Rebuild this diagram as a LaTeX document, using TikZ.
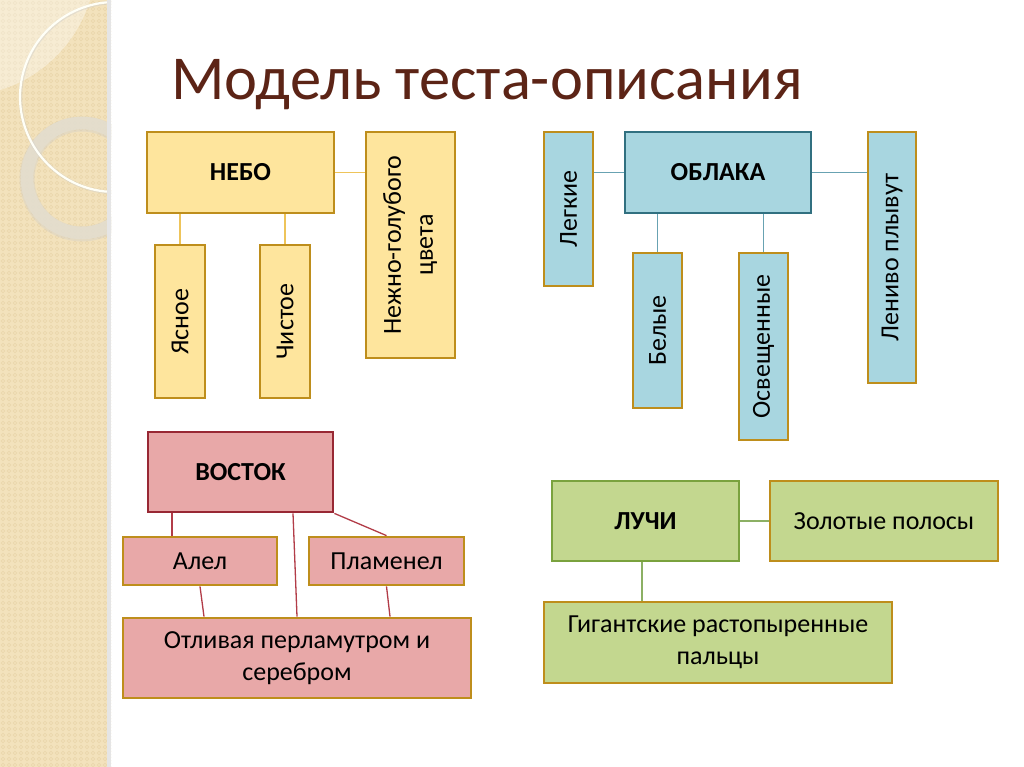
\documentclass[tikz,border=0pt]{standalone}
\usepackage{fontspec}
\setmainfont{Carlito}
\definecolor{strip}{RGB}{243,226,188}
\definecolor{stripdot}{RGB}{233,213,170}
\definecolor{ringc}{RGB}{228,222,206}
\definecolor{titlec}{RGB}{92,36,22}
\definecolor{goldfill}{RGB}{254,229,157}
\definecolor{goldline}{RGB}{190,142,28}
\definecolor{goldcon}{RGB}{238,196,90}
\definecolor{bluefill}{RGB}{168,214,224}
\definecolor{tealline}{RGB}{49,112,128}
\definecolor{bluecon}{RGB}{104,162,178}
\definecolor{pinkfill}{RGB}{232,168,168}
\definecolor{redline}{RGB}{152,40,52}
\definecolor{redcon}{RGB}{178,60,72}
\definecolor{greenfill}{RGB}{195,215,143}
\definecolor{greenline}{RGB}{122,162,62}
\definecolor{greencon}{RGB}{140,176,100}
\tikzset{
  box/.style={draw, line width=2.8pt, inner sep=0pt, font=\fontsize{26}{32}\selectfont, align=center, text=black},
  headbox/.style={box, font=\fontsize{26}{30}\selectfont\bfseries},
  gold/.style={box, fill=goldfill, draw=goldline},
  goldhead/.style={headbox, fill=goldfill, draw=goldline},
  blue/.style={box, fill=bluefill, draw=goldline},
  bluehead/.style={headbox, fill=bluefill, draw=tealline},
  pink/.style={box, fill=pinkfill, draw=goldline},
  pinkhead/.style={headbox, fill=pinkfill, draw=redline},
  green/.style={box, fill=greenfill, draw=goldline},
  greenhead/.style={headbox, fill=greenfill, draw=greenline},
  con/.style={line width=1.3pt},
}
\newcommand{\vtext}[1]{\rotatebox{90}{#1}}
\begin{document}
\begin{tikzpicture}[x=1pt,y=-1pt]
\useasboundingbox (0,0) rectangle (1024,767);
\fill[white] (0,0) rectangle (1024,767);
% decorative strip
\begin{scope}
\clip (0,0) rectangle (111,767);
\fill[strip] (0,0) rectangle (111,767);
\foreach \i in {0,...,18}{
  \foreach \j in {0,...,127}{
    \draw[stripdot, line width=0.6pt] (3+\i*6,3+\j*6) circle (1.8);
  }
}
\fill[white, opacity=0.35] (-40,-40) circle (136);
\draw[black!20, opacity=0.35, line width=15pt] (82,179) circle (55);
\draw[ringc, opacity=0.9, line width=12.5pt] (82,178) circle (55);
\draw[black!20, opacity=0.4, line width=3.5pt] (115.5,97.5) circle (95);
\draw[white!97!yellow, line width=2.2pt] (115,97) circle (95);
\fill[black!10] (107,0) rectangle (111,767);
\end{scope}
% title
\node[anchor=base west, text=titlec, font=\fontsize{62.5}{62.5}\selectfont, inner sep=0pt] (title) at (171,100) {Модель теста-описания};
% НЕБО group
\node[goldhead, minimum width=187pt, minimum height=81pt] (nebo) at (240.5,172.5) {НЕБО};
\node[gold, minimum width=50pt, minimum height=153pt] (yas) at (180,321.5) {\vtext{Ясное}};
\node[gold, minimum width=50pt, minimum height=153pt] (chis) at (285,321.5) {\vtext{Чистое}};
\node[gold, minimum width=89pt, minimum height=226pt] (nezh) at (410.5,245) {\vtext{\begin{tabular}{@{}c@{}}Нежно-голубого\\[0pt]цвета\end{tabular}}};
\draw[con, goldcon] (yas.north |- nebo.south) -- (yas.north);
\draw[con, goldcon] (chis.north |- nebo.south) -- (chis.north);
\draw[con, goldcon] (nebo.east) -- (nezh.west |- nebo.east);
% ОБЛАКА group
\node[bluehead, minimum width=186pt, minimum height=81pt] (obl) at (718,172.5) {ОБЛАКА};
\node[blue, minimum width=49pt, minimum height=154pt] (legk) at (568.5,209) {\vtext{Легкие}};
\node[blue, minimum width=49pt, minimum height=155pt] (bel) at (657.5,330.5) {\vtext{Белые}};
\node[blue, minimum width=49pt, minimum height=187pt] (osv) at (763.5,346.5) {\vtext{Освещенные}};
\node[blue, minimum width=48pt, minimum height=251pt] (len) at (892,257.5) {\vtext{Лениво плывут}};
\draw[con, bluecon] (legk.east |- obl.west) -- (obl.west);
\draw[con, bluecon] (bel.north |- obl.south) -- (bel.north);
\draw[con, bluecon] (osv.north |- obl.south) -- (osv.north);
\draw[con, bluecon] (obl.east) -- (len.west |- obl.east);
% ВОСТОК group
\node[pinkhead, minimum width=185pt, minimum height=80pt] (vost) at (240.5,472) {ВОСТОК};
\node[pink, minimum width=154pt, minimum height=48pt] (alel) at (200,561) {Алел};
\node[pink, minimum width=155pt, minimum height=48pt] (plam) at (386.5,561) {Пламенел};
\node[pink, minimum width=348pt, minimum height=80pt] (otl) at (297,658) {Отливая перламутром и\\серебром};
\draw[con, redcon] ([xshift=-68.5pt]vost.south) -- ([xshift=-28pt]alel.north);
\draw[con, redcon] ([xshift=52.5pt]vost.south) -- (otl.north);
\draw[con, redcon] (vost.south east) -- (plam.north);
\draw[con, redcon] (alel.south) -- ([xshift=-93pt]otl.north);
\draw[con, redcon] (plam.south) -- ([xshift=93pt]otl.north);
% ЛУЧИ group
\node[greenhead, minimum width=187pt, minimum height=80pt] (luchi) at (645.5,521) {ЛУЧИ};
\node[green, minimum width=228pt, minimum height=80pt] (zol) at (884,521) {Золотые полосы};
\node[green, minimum width=348pt, minimum height=81pt] (gig) at (718,642.5) {Гигантские растопыренные\\пальцы};
\draw[con, greencon] (luchi.east) -- (zol.west);
\draw[con, greencon] ([xshift=-3.5pt]luchi.south) -- ([xshift=-76pt]gig.north);
\end{tikzpicture}
\end{document}
